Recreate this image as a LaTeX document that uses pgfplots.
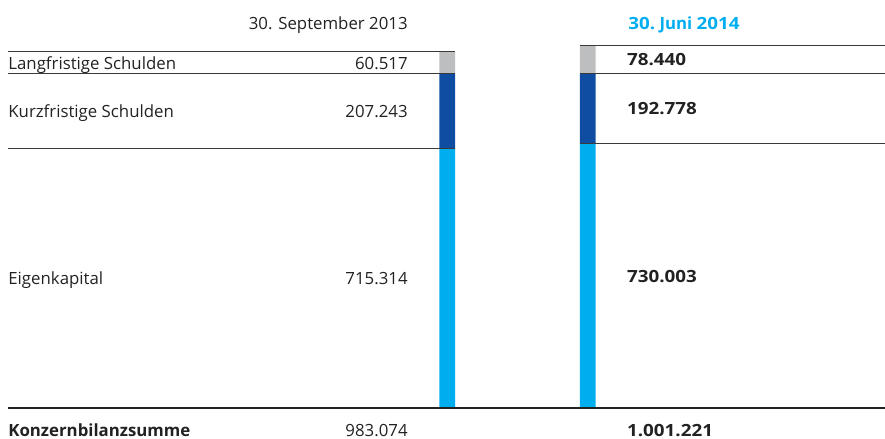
\documentclass[border=0pt]{standalone}
\usepackage{pgfplots}
\pgfplotsset{compat=1.18}
\usepackage{graphicx}
\usepackage{fontspec}
\setmainfont{Open Sans}
\definecolor{cgray}{HTML}{BDBEC0}
\definecolor{cdark}{HTML}{0E4DA1}
\definecolor{clight}{HTML}{00AEEF}
\definecolor{ctext}{HTML}{222222}
\definecolor{cline}{HTML}{3A3A3A}
\newcommand{\bn}[1]{\scalebox{1.12}[1]{\bfseries #1}}
\pgfplotsset{base/.style={
  scale only axis, width=442.5pt, height=219.5pt,
  xmin=0, xmax=885, ymin=-85.6, ymax=1126.1,
  hide axis, clip=false, anchor=south west, at={(0,0)}}}
\begin{document}
\begin{tikzpicture}[font=\fontsize{8.4}{10}\selectfont, text=ctext]
\useasboundingbox (0,0) rectangle (442.5pt,219.5pt);
% stacked bars
\begin{axis}[base, ybar stacked, bar width=15.8]
\addplot[fill=clight, draw=none] coordinates {(447.2,715.314) (587.8,730.003)};
\addplot[fill=cdark, draw=none] coordinates {(447.2,207.243) (587.8,192.778)};
\addplot[fill=cgray, draw=none] coordinates {(447.2,60.517) (587.8,78.440)};
\end{axis}
% rules and labels
\begin{axis}[base]
\addplot[cline, line width=0.45pt, no markers] coordinates {(8,715.314) (455,715.314)};
\addplot[cline, line width=0.45pt, no markers] coordinates {(8,922.557) (455,922.557)};
\addplot[cline, line width=0.45pt, no markers] coordinates {(8,983.074) (455,983.074)};
\addplot[cline, line width=0.45pt, no markers] coordinates {(580,730.003) (885,730.003)};
\addplot[cline, line width=0.45pt, no markers] coordinates {(580,922.781) (885,922.781)};
\addplot[cline, line width=0.45pt, no markers] coordinates {(580,1001.221) (885,1001.221)};
\addplot[ctext, line width=1.15pt, no markers] coordinates {(8,0) (885,0)};
% headers
\node[anchor=base east, inner sep=0pt] at (axis cs:408,1045.3) {30. September 2013};
\node[anchor=base west, inner sep=0pt, text=clight] at (axis cs:628,1045.3) {\bn{30.} {\bfseries Juni} \bn{2014}};
% left labels
\node[anchor=base west, inner sep=0pt] at (axis cs:8,933) {Langfristige Schulden};
\node[anchor=base west, inner sep=0pt] at (axis cs:8,800.4) {Kurzfristige Schulden};
\node[anchor=base west, inner sep=0pt] at (axis cs:8,339.5) {Eigenkapital};
\node[anchor=base west, inner sep=0pt] at (axis cs:8,-78.7) {\bfseries Konzernbilanzsumme};
% left values
\node[anchor=base east, inner sep=0pt] at (axis cs:408,933) {60.517};
\node[anchor=base east, inner sep=0pt] at (axis cs:408,800.4) {207.243};
\node[anchor=base east, inner sep=0pt] at (axis cs:408,339.5) {715.314};
\node[anchor=base east, inner sep=0pt] at (axis cs:408,-78.7) {983.074};
% right values
\node[anchor=base west, inner sep=0pt] at (axis cs:626.7,945.9) {\bn{78.440}};
\node[anchor=base west, inner sep=0pt] at (axis cs:626.7,808.7) {\bn{192.778}};
\node[anchor=base west, inner sep=0pt] at (axis cs:626.7,345) {\bn{730.003}};
\node[anchor=base west, inner sep=0pt] at (axis cs:626.7,-77.5) {\bn{1.001.221}};
\end{axis}
\end{tikzpicture}
\end{document}
